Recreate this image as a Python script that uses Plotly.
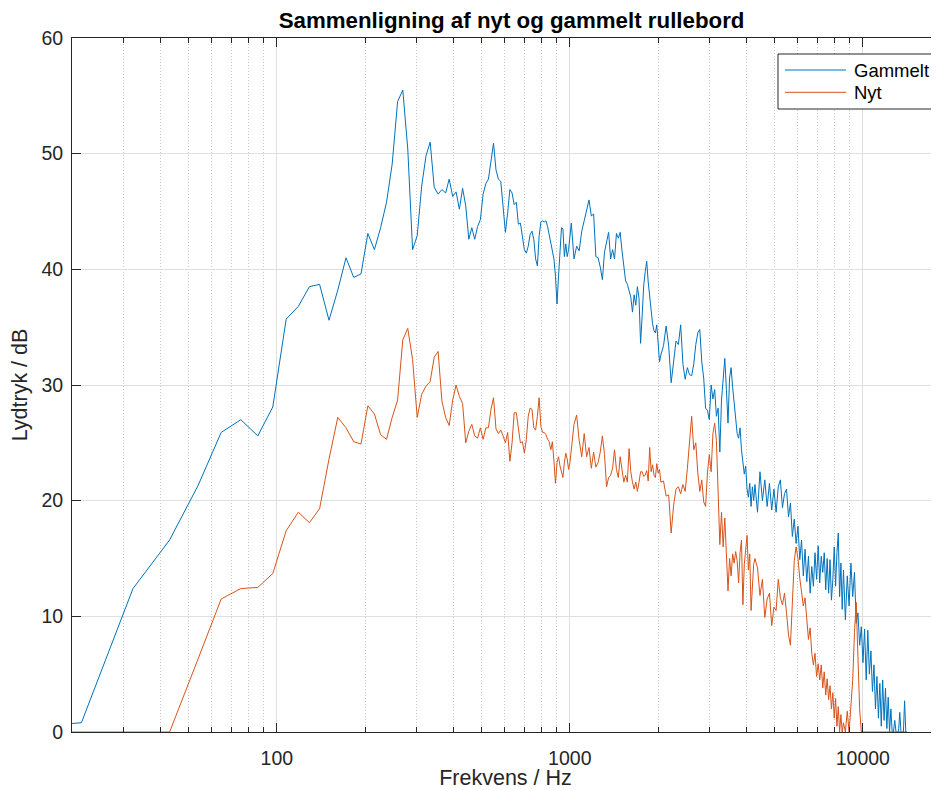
import math
import plotly.graph_objects as go

# FFT settings of the measurement (bin index -> Hz)
FS = 44100
NFFT = 4096

# FFT bin indices that are plotted (every bin at low frequency, thinner above 1 kHz)
bins = (list(range(1, 94)) + list(range(94, 191, 2)) + list(range(194, 399, 4))
        + list(range(406, 799, 8)) + list(range(810, 1315, 12)))

# Lydtryk (dB) for the old board
gammelt = [
    0.2, 0.8, 12.4, 16.6, 21.3, 25.9, 27.0, 25.6, 28.1, 35.7,
    36.8, 38.5, 38.7, 35.6, 38.2, 41.0, 39.3, 39.6, 43.1, 41.7,
    43.6, 45.8, 49.1, 54.5, 55.5, 50.4, 41.7, 42.9, 47.2, 49.8,
    51.0, 47.1, 46.5, 46.9, 46.6, 47.8, 46.3, 46.7, 45.2, 47.0,
    45.5, 42.6, 43.6, 42.6, 43.7, 44.3, 46.5, 47.4, 47.8, 49.5,
    50.9, 48.6, 47.8, 47.6, 45.5, 43.2, 44.9, 46.9, 46.6, 45.6,
    45.8, 43.9, 44.0, 42.9, 41.7, 41.4, 42.0, 43.0, 43.3, 42.6,
    40.9, 40.3, 42.9, 44.1, 44.2, 44.1, 44.2, 43.7, 42.9, 42.3,
    41.7, 40.9, 39.4, 37.0, 39.4, 41.7, 43.6, 43.5, 41.1, 42.2,
    41.1, 41.7, 43.2,
    44.0, 40.9, 42.0, 41.6, 43.3, 44.2, 45.0, 46.0, 44.6, 44.8,
    41.1, 41.0, 40.2, 39.1, 41.5, 42.5, 43.2, 40.9, 41.7, 40.9,
    43.1, 42.7, 43.2, 41.6, 40.0, 39.0, 38.7, 38.2, 37.6, 36.3,
    37.8, 36.9, 38.5, 37.5, 33.6, 36.0, 38.6, 39.8, 40.7, 38.9,
    37.5, 36.4, 35.3, 34.7, 34.5, 35.2, 33.5, 32.0, 32.6,
    33.4, 35.1, 33.4, 30.2, 31.8, 33.8, 33.5, 35.2, 31.8, 30.5,
    31.5, 30.9, 30.8, 31.8, 33.5, 34.5, 34.8, 32.0, 30.6, 28.0,
    27.8, 27.0, 30.0, 28.8, 29.6, 27.3, 28.0, 24.2, 28.7, 31.0,
    32.3, 29.6, 26.7, 30.6, 31.5, 29.8, 28.2, 27.0, 25.8, 25.4,
    26.3, 24.4, 23.4, 22.3, 23.0, 21.0, 20.3, 21.5, 19.5, 21.2,
    20.0, 21.4,
    19.0, 22.5, 20.0, 21.8, 19.5, 21.5, 19.2, 21.0, 19.0, 21.2,
    21.8, 19.4, 20.6, 21.0, 18.6, 19.8, 16.9, 18.4, 16.3, 17.8,
    14.9, 16.6, 13.5, 15.8, 13.0, 15.2, 12.0, 14.3, 12.6, 15.5,
    13.2, 16.1, 12.9, 15.2, 13.8, 15.5, 12.3, 15.0, 12.0, 14.9,
    11.4, 13.2, 16.0, 12.6, 15.5, 17.2, 11.7, 14.6, 10.6, 14.0,
    9.7, 13.5, 10.9, 14.6, 11.7, 13.8, 9.4, 10.3, 7.5, 9.1,
    6.0, 8.9, 4.5, 8.8, 5.0, 7.0, 3.5, 5.8, 2.0, 4.8,
    1.2, 4.2, 0.5, 4.5, 1.0, 3.8, 0.3, 3.0, 0.0, 2.0,
    0.0, 0.0, 1.0, 0.0, 0.0, 0.0, 1.7, 0.0, 0.0, 0.0,
    2.7, 0.0, 0.0,
]

# Lydtryk (dB) for the new board
nyt = [
    0.0, 0.0, 0.0, 0.0, 6.3, 11.5, 12.4, 12.5, 13.7, 17.4,
    19.0, 18.1, 19.3, 23.6, 27.2, 26.3, 25.1, 24.9, 28.2, 27.5,
    25.7, 25.3, 27.2, 28.7, 33.9, 34.9, 32.2, 27.2, 29.2, 29.9,
    30.3, 32.4, 32.9, 28.6, 27.2, 26.5, 28.7, 30.0, 29.0, 28.4,
    25.0, 26.0, 26.6, 25.6, 25.4, 26.3, 25.3, 26.3, 26.3, 27.9,
    28.9, 26.2, 25.8, 26.1, 25.6, 25.0, 25.9, 23.4, 25.0, 27.6,
    27.6, 26.1, 25.0, 25.1, 24.1, 25.3, 27.3, 28.0, 27.9, 26.3,
    26.1, 27.3, 28.9, 26.4, 25.9, 25.9, 25.7, 25.3, 25.1, 24.4,
    25.1, 23.4, 21.5, 23.3, 23.8, 23.0, 22.4, 22.0, 23.3, 24.1,
    23.6, 22.7, 23.3,
    24.4, 26.6, 27.4, 25.2, 23.8, 25.8, 23.8, 24.6, 22.8, 24.2,
    22.9, 23.3, 24.2, 25.6, 24.0, 21.2, 22.0, 22.2, 22.8, 24.4,
    22.7, 22.0, 23.8, 22.5, 21.6, 22.2, 21.6, 24.5, 22.5, 21.6,
    21.0, 21.6, 20.8, 21.6, 22.5, 22.5, 22.1, 22.2, 22.6, 21.7,
    24.6, 22.5, 23.1, 22.2, 22.0, 23.2, 22.4, 22.7, 21.6,
    21.7, 20.4, 20.5, 17.2, 19.6, 21.0, 21.2, 20.6, 21.4, 20.8,
    22.8, 25.4, 27.3, 24.4, 25.0, 22.4, 20.8, 21.8, 19.9, 19.5,
    22.4, 24.0, 22.5, 25.8, 26.7, 25.2, 21.0, 16.2, 19.0, 16.0,
    18.5, 15.6, 12.2, 15.0, 13.5, 15.4, 14.6, 15.6, 14.8, 12.9,
    15.5, 16.6, 11.0, 14.5, 15.8, 17.0, 14.0, 15.4, 10.5, 12.5,
    14.5, 15.0,
    14.2, 11.8, 13.2, 9.9, 11.5, 12.0, 9.2, 10.8, 10.5, 13.2,
    11.6, 11.0, 12.0, 10.3, 8.4, 7.5, 12.0, 14.8, 16.0, 15.0,
    13.3, 12.0, 10.9, 11.6, 9.7, 8.0, 9.0, 6.8, 5.8, 6.8,
    4.8, 5.9, 4.5, 5.8, 3.8, 5.2, 3.2, 4.6, 2.8, 4.0,
    2.0, 3.4, 1.2, 2.9, 0.5, 2.2, 0.0, 1.5, 0.0, 0.8,
    0.0, 1.8, 0.0, 2.2, 4.5, 8.6, 11.2, 6.5, 2.0, 0.0,
    0.0, 0.0, 0.0, 0.0, 0.0, 0.0, 0.0, 0.0, 0.0, 0.0,
    0.0, 0.0, 0.0, 0.0, 0.0, 0.0, 0.0, 0.0, 0.0, 0.0,
    0.0, 0.0, 0.0, 0.0, 0.0, 0.0, 0.0, 0.0, 0.0, 0.0,
    0.0, 0.0, 0.0,
]

series_names = ["Gammelt", "Nyt"]
series_colors = ["#0072BD", "#D95319"]

freq_hz = [k * FS / NFFT for k in bins]

AX = "#262626"
FONT = "Liberation Sans, Arial, Helvetica, sans-serif"

fig = go.Figure()
for name, vals, col in zip(series_names, [gammelt, nyt], series_colors):
    fig.add_trace(go.Scatter(x=freq_hz, y=vals, mode="lines", name=name,
                             showlegend=False, line=dict(color=col, width=1)))

# the page body has an 8 px margin, so the figure is 8 px smaller than the window
W, H = 931, 782
PW, PH = 867, 694  # plot area size in px


def px(xp):  # horizontal page pixel -> paper fraction
    return (xp - 72) / PW


def py(yp):  # vertical page pixel -> paper fraction
    return (732 - yp) / PH


# MATLAB-style legend box (top right)
shapes = [dict(type="rect", xref="paper", yref="paper",
               x0=px(778), x1=px(937), y0=py(109), y1=py(54),
               line=dict(color=AX, width=1), fillcolor="white", layer="above")]
annotations = []
for i, (name, col) in enumerate(zip(series_names, series_colors)):
    yl = py(70 + 22.3 * i)
    shapes.append(dict(type="line", xref="paper", yref="paper",
                       x0=px(785), x1=px(846), y0=yl, y1=yl,
                       line=dict(color=col, width=1), layer="above"))
    annotations.append(dict(text=name, xref="paper", yref="paper",
                            x=px(852), y=yl, xanchor="left", yanchor="middle",
                            showarrow=False,
                            font=dict(size=18.5, color="black", family=FONT)))

x0 = math.log10(20)
fig.update_layout(
    width=W, height=H,
    margin=dict(l=64, r=0, t=30, b=58, autoexpand=False),
    paper_bgcolor="white", plot_bgcolor="white",
    font=dict(family=FONT, color=AX, size=19),
    showlegend=False,
    shapes=shapes, annotations=annotations,
    title=dict(text="<b>Sammenligning af nyt og gammelt rullebord</b>",
               font=dict(size=22.3, color="black", family=FONT),
               x=0.507, xref="paper", xanchor="center",
               y=1 - 12 / H, yref="container", yanchor="middle"),
    xaxis=dict(type="log", range=[x0, x0 + PW / 293], automargin=False,
               showline=True, linecolor=AX, linewidth=1, mirror="ticks",
               ticks="inside", ticklen=9, tickcolor=AX, dtick=1,
               tickformat="d", showgrid=True, gridcolor="#dfdfdf",
               gridwidth=1, zeroline=False, ticklabelstandoff=9,
               minor=dict(ticks="inside", ticklen=5, tickcolor=AX, dtick="D1",
                          showgrid=True, gridcolor="#c8c8c8", griddash="1px,2px"),
               tickfont=dict(size=19.5, color=AX),
               title=dict(text="Frekvens / Hz", standoff=2,
                          font=dict(size=21.5, color=AX))),
    yaxis=dict(range=[0, 60], dtick=10, showline=True, linecolor=AX, linewidth=1,
               automargin=False, ticklabelstandoff=4,
               mirror=False, ticks="inside", ticklen=9, tickcolor=AX,
               showgrid=True, gridcolor="#dfdfdf", gridwidth=1, zeroline=False,
               tickfont=dict(size=19.5, color=AX),
               title=dict(text="Lydtryk / dB", standoff=7,
                          font=dict(size=21.5, color=AX))),
)

fig.write_html("out.html")
